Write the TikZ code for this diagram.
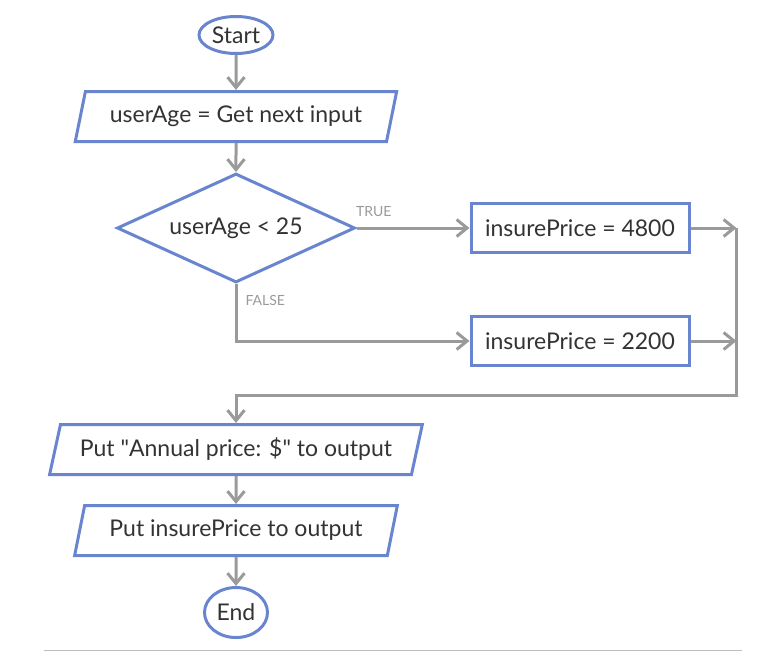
\documentclass[tikz,border=0pt]{standalone}
\usepackage{fontspec}
\setmainfont{Lato}
\usetikzlibrary{arrows.meta,positioning,shapes.geometric,calc}
\definecolor{flowblue}{HTML}{6A85D0}
\definecolor{flowgray}{HTML}{9A9A9A}
\definecolor{flowdark}{HTML}{333333}
\definecolor{flowrule}{HTML}{BDBDBD}
\tikzset{
  shp/.style={draw=flowblue,line width=3pt,fill=white,text=flowdark,font=\fontsize{23}{26}\selectfont,inner sep=0pt},
  term/.style={shp,ellipse},
  io/.style={shp,trapezium,trapezium left angle=68,trapezium right angle=112,trapezium stretches=true,minimum height=50pt},
  proc/.style={shp,rectangle,minimum width=218pt,minimum height=49pt},
  dec/.style={shp,diamond,aspect=2.2,minimum width=238pt,minimum height=109pt},
  ar/.style={-{Straight Barb[length=10.5pt,width=17pt]},draw=flowgray,line width=3pt},
  arl/.style={font=\fontsize{14}{16}\selectfont,text=flowgray,inner sep=0pt},
}

\begin{document}
\begin{tikzpicture}[x=1pt,y=-1pt]
    \path[use as bounding box](0,0)rectangle(772,652);
    \node[term,minimum width=74pt,minimum height=37pt](start) at (236,35){Start};
    \node[io,below=35pt of start,minimum width=322pt](in1){userAge = Get next input};
    \node[dec,below=29pt of in1](age){userAge < 25};
    \node[proc,right=113pt of age](p1){insurePrice = 4800};
    \node[proc,below=61pt of p1](p2){insurePrice = 2200};
    \node[io,below=139pt of age,minimum width=374pt,trapezium left angle=67,trapezium right angle=113](out1){Put \textquotedbl Annual price: \$\textquotedbl{} to output};
    \node[io,below=28pt of out1,minimum width=324pt](out2){Put insurePrice to output};
    \node[term,below=29pt of out2,minimum width=63pt,minimum height=50pt](stop){End};
    \coordinate (m1) at ($(p1.east)+(46pt,0)$);
    \coordinate (m2) at (m1 |- p2.east);
    \coordinate (j) at ($(m1)+(0,167)$);
    \draw[ar](start)--(in1);
    \draw[ar](in1)--(age);
    \draw[ar](age)--node[arl,pos=0,anchor=south west,xshift=-2pt,yshift=10pt]{TRUE}(p1);
    \draw[ar](age.south)|-node[arl,pos=0,anchor=north west,xshift=8pt,yshift=-10pt]{FALSE}(p2.west);
    \draw[ar](p1)--(m1);\draw[ar](p2)--(m2);
    \draw[ar](m1)--(j)-|(out1.north);
    \draw[ar](out1)--(out2);\draw[ar](out2)--(stop);
    \draw[flowrule,line width=1.5pt](44,650.5)--(742,650.5);
  \end{tikzpicture}
\end{document}
